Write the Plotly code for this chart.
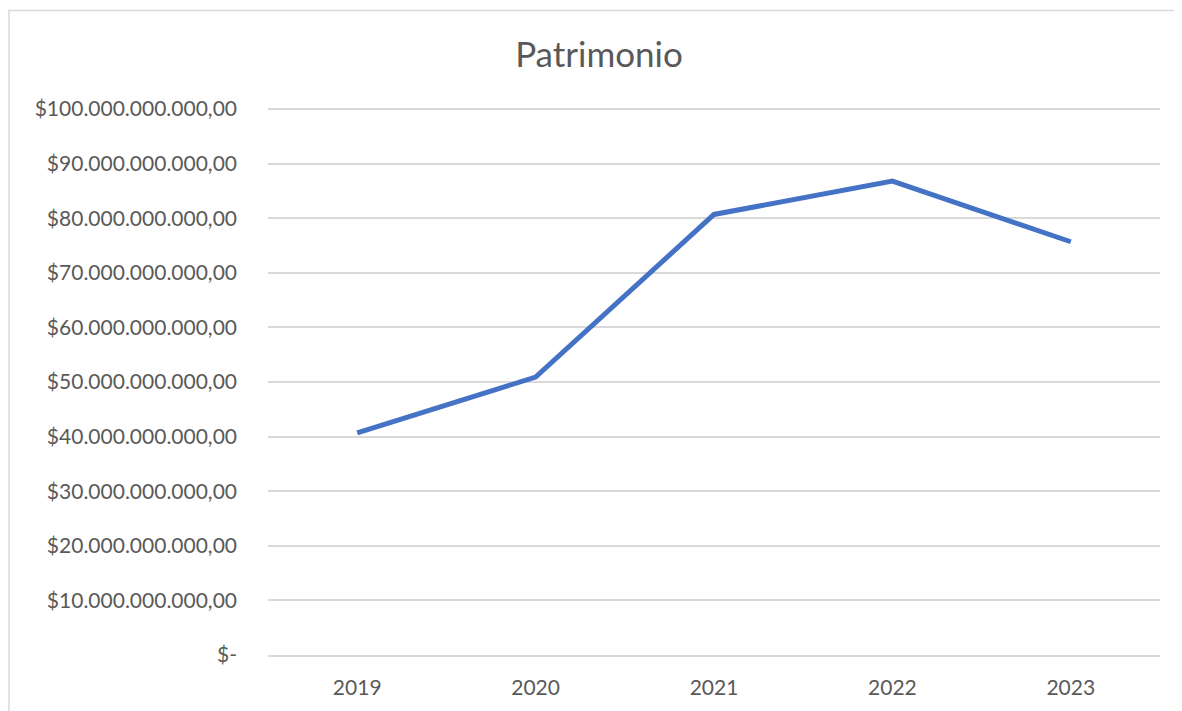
import plotly.graph_objects as go

years = ["2019", "2020", "2021", "2022", "2023"]
patrimonio = [40.7e9, 50.9e9, 80.7e9, 86.8e9, 75.7e9]

tick_vals = [0, 10e9, 20e9, 30e9, 40e9, 50e9, 60e9, 70e9, 80e9, 90e9, 100e9]
tick_text = ["$-", "$10.000.000.000,00", "$20.000.000.000,00", "$30.000.000.000,00",
             "$40.000.000.000,00", "$50.000.000.000,00", "$60.000.000.000,00",
             "$70.000.000.000,00", "$80.000.000.000,00", "$90.000.000.000,00",
             "$100.000.000.000,00"]

FONT = "Lato, 'Open Sans', sans-serif"
GRAY = "#595959"

W, H = 1174, 703
L, R, T, B = 260, 22, 100, 53
PW, PH = W - L - R, H - T - B
YMAX = 100.2e9

fig = go.Figure()
fig.add_trace(go.Scatter(
    x=years, y=patrimonio, mode="lines",
    line=dict(color="#4472C4", width=5),
    hoverinfo="skip", showlegend=False,
))

fig.update_layout(
    width=W, height=H,
    margin=dict(l=L, r=R, t=T, b=B),
    paper_bgcolor="white", plot_bgcolor="white",
    title=dict(text="Patrimonio", x=591 / W, xanchor="center", xref="container",
               y=(H - 47) / H, yanchor="middle",
               font=dict(family=FONT, size=35, color=GRAY)),
    xaxis=dict(type="category", range=[-0.5, 4.5], showgrid=False,
               showline=True, linecolor="#D9D9D9", linewidth=1.5,
               ticks="", tickfont=dict(family=FONT, size=21, color=GRAY),
               ticklabelstandoff=13, zeroline=False),
    yaxis=dict(range=[0, YMAX], tickvals=tick_vals, ticktext=tick_text,
               showgrid=True, gridcolor="#D9D9D9", gridwidth=1.5,
               zeroline=False, showline=False, ticks="",
               tickfont=dict(family=FONT, size=21, color=GRAY),
               ticklabelstandoff=30),
    shapes=[dict(type="rect", xref="paper", yref="paper",
                 x0=(1 - L) / PW, x1=(1173 - L) / PW,
                 y0=(H - B - 720) / PH, y1=(H - B - 2) / PH,
                 line=dict(color="#D9D9D9", width=1.5), fillcolor="rgba(0,0,0,0)",
                 layer="below")],
)

fig.write_html("out.html")
